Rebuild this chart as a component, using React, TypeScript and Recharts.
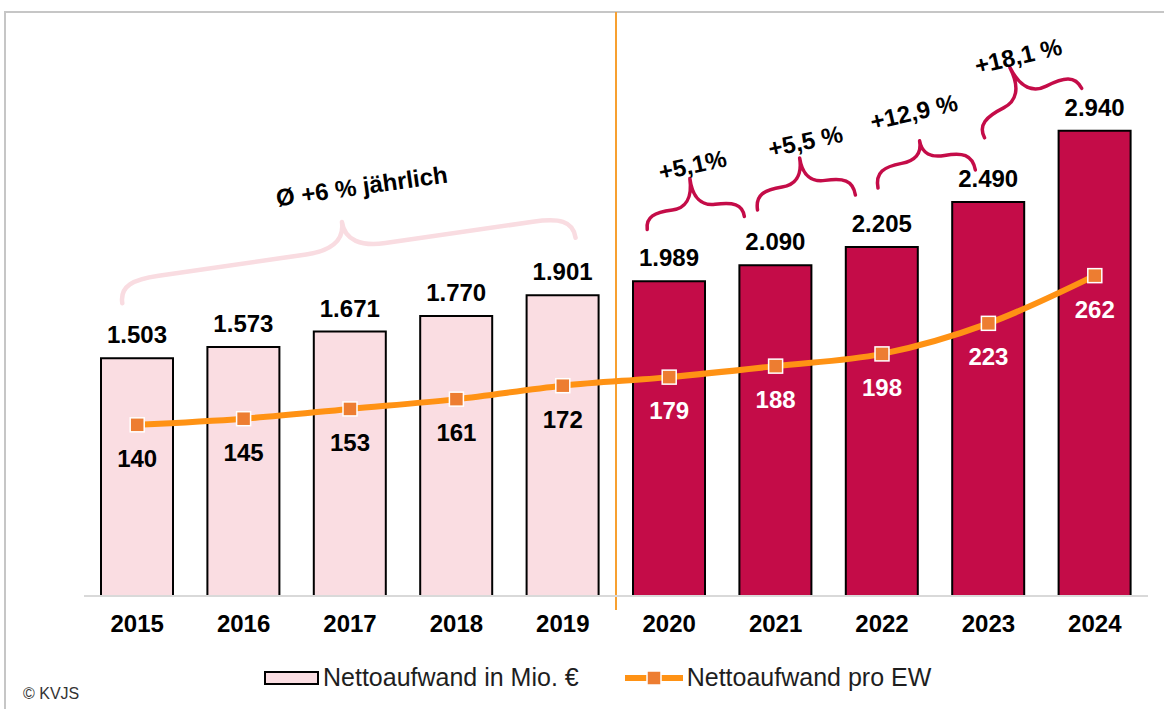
import React from "react";
import {
  ComposedChart,
  Bar,
  Line,
  XAxis,
  YAxis,
  Cell,
  LabelList,
  ReferenceLine,
  ReferenceDot,
} from "recharts";

const years = ["2015", "2016", "2017", "2018", "2019", "2020", "2021", "2022", "2023", "2024"];
const nettoaufwandMio = [1503, 1573, 1671, 1770, 1901, 1989, 2090, 2205, 2490, 2940];
const nettoaufwandProEW = [140, 145, 153, 161, 172, 179, 188, 198, 223, 262];
const growthLabels = ["+5,1%", "+5,5 %", "+12,9 %", "+18,1 %"];
const averageLabel = "Ø +6 % jährlich";
const seriesNames = ["Nettoaufwand in Mio. €", "Nettoaufwand pro EW"];

// years from this index on are drawn dark
const SPLIT = 5;

const PINK = "#FADDE2";
const CRIMSON = "#C40C48";
const ORANGE = "#FF9214";
const MARKER = "#ED7D31";
const FONT = '"Liberation Sans", Arial, sans-serif';

const data = years.map((year, i) => ({
  year,
  pos: i + 0.5,
  mio: nettoaufwandMio[i],
  ew: nettoaufwandProEW[i],
}));

const fmt = (v: number) => String(v).replace(/\B(?=(\d{3})+(?!\d))/g, ".");

// brace annotations, x in category units, y in Mio. units
const braces = [
  { x: 5.75, y: 2357, w: 98, d: 16, c: 29, angle: -7.6, color: CRIMSON, sw: 3.5 },
  { x: 6.79, y: 2487, w: 99, d: 19, c: 26, angle: -8.7, color: CRIMSON, sw: 3.5 },
  { x: 7.92, y: 2635, w: 99, d: 20, c: 19, angle: -10.5, color: CRIMSON, sw: 3.5 },
  { x: 8.92, y: 3052, w: 109, d: 18, c: 33, angle: -27, color: CRIMSON, sw: 3.5 },
  { x: 2.49, y: 2057, w: 458, d: 22, c: 27, angle: -8.2, color: "#F9DCE1", sw: 4.5 },
];
const braceTexts = [
  { x: 5.72, y: 2724, angle: -12, text: growthLabels[0] },
  { x: 6.78, y: 2875, angle: -12, text: growthLabels[1] },
  { x: 7.8, y: 3059, angle: -13, text: growthLabels[2] },
  { x: 8.78, y: 3413, angle: -13, text: growthLabels[3] },
  { x: 2.61, y: 2591, angle: -8, text: averageLabel },
];

function bracePath(w: number, d: number, c: number) {
  const h = Math.min(w * 0.28, 40);
  const k = Math.min(w * 0.22, 40);
  const L = -w / 2;
  const R = w / 2;
  return [
    `M ${L} 0`,
    `C ${L} ${-d * 0.8} ${L + h * 0.35} ${-d} ${L + h} ${-d}`,
    `L ${-k} ${-d}`,
    `C ${-k * 0.4} ${-d} 0 ${-d - c * 0.3} 0 ${-d - c}`,
    `C 0 ${-d - c * 0.3} ${k * 0.4} ${-d} ${k} ${-d}`,
    `L ${R - h} ${-d}`,
    `C ${R - h * 0.35} ${-d} ${R} ${-d * 0.8} ${R} 0`,
  ].join(" ");
}

const renderEwLabel = (props: any) => {
  const x = props.x ?? props.viewBox?.x;
  const y = props.y ?? props.viewBox?.y;
  if (x == null || y == null) return null;
  return (
    <text
      x={x}
      y={y + 42}
      textAnchor="middle"
      fontSize={24}
      fontWeight={700}
      fill={props.index >= SPLIT ? "#fff" : "#000"}
    >
      {props.value}
    </text>
  );
};

const renderMarker = (p: any) => (
  <rect
    key={`m-${p.index}`}
    x={p.cx - 7}
    y={p.cy - 7}
    width={14}
    height={14}
    fill={MARKER}
    stroke="#fff"
    strokeWidth={1.5}
  />
);

export default function App() {
  return (
    <div
      style={{
        position: "absolute",
        left: 0,
        top: 0,
        width: 1164,
        height: 709,
        overflow: "hidden",
        background: "#fff",
        fontFamily: FONT,
      }}
    >
      <div
        style={{
          position: "absolute",
          left: 4,
          top: 11,
          width: 1240,
          height: 800,
          border: "2px solid #C6C6C6",
        }}
      />
      <div style={{ position: "absolute", left: 0, top: 0 }}>
        <ComposedChart
          width={1164}
          height={709}
          data={data}
          margin={{ top: 58, right: 16, bottom: 83, left: 84 }}
        >
          <XAxis
            xAxisId="cat"
            dataKey="year"
            height={30}
            tickLine={false}
            tickMargin={13}
            axisLine={{ stroke: "#D9D9D9", strokeWidth: 2 }}
            tick={{ fontSize: 24, fontWeight: 700, fill: "#000" }}
          />
          <XAxis xAxisId="pos" dataKey="pos" type="number" domain={[0, 10]} hide allowDataOverflow />
          <YAxis yAxisId="left" domain={[0, 3400]} hide allowDataOverflow />
          <YAxis yAxisId="right" orientation="right" domain={[0, 440]} hide allowDataOverflow />

          <Bar
            xAxisId="cat"
            yAxisId="left"
            dataKey="mio"
            barSize={72}
            stroke="#000"
            strokeWidth={2}
            isAnimationActive={false}
          >
            {data.map((_d, i) => (
              <Cell key={`c-${i}`} fill={i >= SPLIT ? CRIMSON : PINK} />
            ))}
            <LabelList
              dataKey="mio"
              position="top"
              offset={15}
              formatter={(v: any) => fmt(Number(v))}
              style={{ fontSize: 24, fontWeight: 700, fill: "#000" }}
            />
          </Bar>

          <ReferenceLine
            xAxisId="pos"
            yAxisId="left"
            segment={[
              { x: SPLIT, y: -88 },
              { x: SPLIT, y: 3691 },
            ]}
            ifOverflow="visible"
            stroke="#F7A030"
            strokeWidth={2}
          />

          <Line
            xAxisId="cat"
            yAxisId="right"
            dataKey="ew"
            type="monotone"
            stroke={ORANGE}
            strokeWidth={6}
            dot={renderMarker}
            activeDot={false}
            isAnimationActive={false}
          >
            <LabelList dataKey="ew" content={renderEwLabel} />
          </Line>

          {braces.map((b, i) => (
            <ReferenceDot
              key={`b-${i}`}
              xAxisId="pos"
              yAxisId="left"
              x={b.x}
              y={b.y}
              ifOverflow="visible"
              shape={(p: any) => (
                <path
                  transform={`translate(${p.cx},${p.cy}) rotate(${b.angle})`}
                  d={bracePath(b.w, b.d, b.c)}
                  fill="none"
                  stroke={b.color}
                  strokeWidth={b.sw}
                  strokeLinecap="round"
                  strokeLinejoin="round"
                />
              )}
            />
          ))}
          {braceTexts.map((t, i) => (
            <ReferenceDot
              key={`t-${i}`}
              xAxisId="pos"
              yAxisId="left"
              x={t.x}
              y={t.y}
              ifOverflow="visible"
              shape={(p: any) => (
                <text
                  transform={`translate(${p.cx},${p.cy}) rotate(${t.angle})`}
                  textAnchor="middle"
                  dominantBaseline="central"
                  fontSize={24}
                  fontWeight={700}
                  fill="#000"
                >
                  {t.text}
                </text>
              )}
            />
          ))}
        </ComposedChart>
      </div>

      {/* legend */}
      <div
        style={{
          position: "absolute",
          left: 264,
          top: 663,
          display: "flex",
          alignItems: "center",
          fontSize: 25,
          color: "#1E1E1E",
          whiteSpace: "nowrap",
        }}
      >
        <span
          style={{
            display: "inline-block",
            width: 51,
            height: 10,
            background: PINK,
            border: "2px solid #000",
            marginRight: 4,
          }}
        />
        <span>{seriesNames[0]}</span>
        <svg width={60} height={16} style={{ marginLeft: 45, marginRight: 3 }}>
          <line x1={1} y1={8} x2={59} y2={8} stroke={ORANGE} strokeWidth={6} />
          <rect x={23} y={1} width={14} height={14} fill={MARKER} stroke="#fff" strokeWidth={1.5} />
        </svg>
        <span>{seriesNames[1]}</span>
      </div>
      <div
        style={{
          position: "absolute",
          left: 23,
          top: 685,
          fontSize: 16,
          color: "#333",
        }}
      >
        © KVJS
      </div>
    </div>
  );
}
